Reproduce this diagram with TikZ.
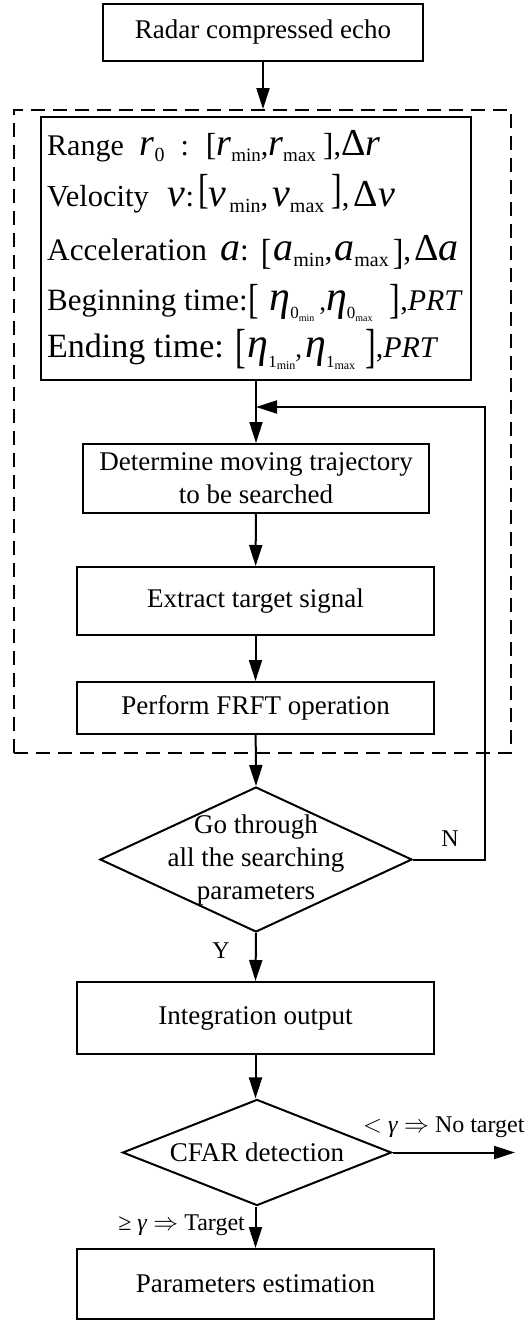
\documentclass[tikz,border=0pt]{standalone}
\usepackage{fontspec}
\setmainfont{Liberation Serif}
\usepackage{graphicx}
\usetikzlibrary{arrows.meta,shapes.geometric,calc}

% pieces of the parameter ranges: size first, then content
\newcommand\pvar[2]{{\fontsize{#1}{#1}\selectfont\itshape #2}}
\newcommand\pup[2]{{\fontsize{#1}{#1}\selectfont #2}}
% subscript: size, drop below the baseline, content
\newcommand\psub[3]{\raisebox{-#2}{\fontsize{#1}{#1}\selectfont #3}}
% tall brackets: vertical stretch, vertical shift
\newcommand\bopen[2]{\raisebox{#2}{\fontsize{29}{29}\selectfont\scalebox{1.1}[#1]{[}}}
\newcommand\bclose[2]{\raisebox{#2}{\fontsize{29}{29}\selectfont\scalebox{1.1}[#1]{]}}}

\tikzset{
  stepbox/.style={draw, line width=2pt, rectangle, inner sep=0pt, align=center,
    font=\fontsize{27}{33}\selectfont},
  decide/.style={draw, line width=2pt, diamond, inner sep=0pt, aspect=2,
    font=\fontsize{27}{33}\selectfont},
  arr/.style={line width=2pt, -{Triangle[length=21pt,width=13pt]}},
  plain/.style={line width=2pt},
  grouping/.style={draw, line width=1.8pt, dash pattern=on 14pt off 8pt,
    rectangle, inner sep=0pt},
  paramline/.style={anchor=base west, inner sep=0pt},
  lbl/.style={inner sep=0pt, font=\fontsize{24}{24}\selectfont},
}

\begin{document}
\begin{tikzpicture}[x=1pt,y=-1pt]
\useasboundingbox (0,0) rectangle (528,1321);

% dashed frame around the search loop
\node[grouping, minimum width=497pt, minimum height=643pt] (group) at (262.5,431.5) {};

% processing steps
\node[stepbox, minimum width=320pt, minimum height=57pt] (echo) at (263,32.5) {Radar compressed echo};
\node[stepbox, minimum width=430pt, minimum height=263pt] (params) at (256,248.5) {};
\node[stepbox, minimum width=346pt, minimum height=69pt] (traj) at (256,478.5)
  {Determine moving trajectory\\to be searched};
\node[stepbox, minimum width=357pt, minimum height=68pt] (extract) at (255.5,601) {Extract target signal};
\node[stepbox, minimum width=357pt, minimum height=52pt] (frft) at (255.5,708) {Perform FRFT operation};
\node[decide, minimum width=312pt, minimum height=145pt,
  label={[align=center, font=\fontsize{27}{33}\selectfont]center:Go through\\all the searching\\parameters}]
  (go) at (256,859.5) {};
\node[stepbox, minimum width=357pt, minimum height=72pt] (integ) at (255.5,1018) {Integration output};
\node[decide, minimum width=269pt, minimum height=101pt] (cfar) at (257,1152.5) {CFAR detection};
\node[stepbox, minimum width=357pt, minimum height=70pt] (estim) at (255.5,1284) {Parameters estimation};

% search parameter ranges
\node[paramline] (prange) at (47,156)
  {\pup{30}{Range}\hspace{16pt}\pvar{38}{r}\psub{20}{6pt}{0}\hspace{16pt}\pup{30}{:}\hspace{17pt}%
   \bopen{1.1}{0pt}\pvar{38}{r}\psub{19}{6pt}{min}\pup{30}{,}\pvar{38}{r}\psub{19}{6pt}{max}\hspace{7pt}%
   \bclose{1.1}{0pt}\pup{30}{,}\pup{38}{Δ}\pvar{38}{r}};
\node[paramline] (pvel) at (47,207)
  {\pup{30.5}{Velocity}\hspace{19pt}\pvar{40}{v}\pup{30.5}{:}\hspace{4pt}%
   \bopen{1.45}{3pt}\pvar{40}{v}\hspace{3pt}\psub{20}{6pt}{min}\pup{30.5}{,}\hspace{4pt}\pvar{40}{v}\psub{20}{6pt}{max}\hspace{7pt}%
   \bclose{1.45}{3pt}\pup{30.5}{,}\hspace{4pt}\pup{38}{Δ}\pvar{38}{v}};
\node[paramline] (pacc) at (47,261)
  {\pup{31.3}{Acceleration}\hspace{13pt}\pvar{40}{a}\pup{31.3}{:}\hspace{12pt}%
   \bopen{1.25}{-4pt}\hspace{2pt}\pvar{40}{a}\psub{20}{6pt}{min}\pup{31.3}{,}\hspace{2pt}\pvar{40}{a}\psub{20}{6pt}{max}\hspace{4pt}%
   \bclose{1.25}{-4pt}\pup{31.3}{,}\hspace{3pt}\pup{38}{Δ}\pvar{40}{a}};
\node[paramline] (pbeg) at (47,310)
  {\pup{31}{Beginning time:}\hspace{1pt}\bopen{1.45}{-3pt}\hspace{10pt}%
   \pvar{42}{η}\psub{17}{9pt}{0\psub{10}{2pt}{min}}\hspace{5pt}\pup{27}{,}%
   \pvar{42}{η}\psub{17}{9pt}{0\psub{10}{2pt}{max}}\hspace{17pt}%
   \bclose{1.45}{-3pt}\pup{30}{,}\pvar{30}{PRT}};
\node[paramline] (pend) at (47,357)
  {\pup{34}{Ending time:}\hspace{12pt}\bopen{1.65}{-5pt}\hspace{1pt}%
   \pvar{42}{η}\psub{17}{10pt}{1\psub{12}{2pt}{min}}\pup{27}{,}\hspace{3pt}%
   \pvar{42}{η}\psub{17}{10pt}{1\psub{12}{2pt}{max}}\hspace{10pt}%
   \bclose{1.65}{-5pt}\pup{30}{,}\pvar{30}{PRT}};

% loop junction and return rail
\coordinate (merge) at (256,407);
\coordinate (rail) at (485,407);
\coordinate (reject) at (515,1152.5);

% connectors
\draw[arr] (echo.south) -- (echo.south |- group.north);
\draw[plain] (params.south) -- (merge);
\draw[arr] (merge) -- (traj.north);
\draw[arr] (traj) -- (extract);
\draw[arr] (extract) -- (frft);
\draw[arr] (frft) -- (go.north);
\draw[arr] (go.east) -| (rail) -- (merge);
\draw[arr] (go.south) -- (integ.north);
\draw[arr] (integ) -- (cfar.north -| integ.south);
\draw[arr] (cfar.south -| estim.north) -- (estim.north);
\draw[arr] (cfar.east) -- (reject);

% branch labels
\node[lbl, anchor=base] (nlab) at (450,846) {N};
\node[lbl, anchor=base] (ylab) at (221,958) {Y};
\node[lbl, anchor=base west] (nolab) at (363,1132) {$<$ \textit{γ} $\Rightarrow$ No target};
\node[lbl, anchor=base east] (yeslab) at (245,1230) {≥ \textit{γ} $\Rightarrow$ Target};
\end{tikzpicture}
\end{document}
